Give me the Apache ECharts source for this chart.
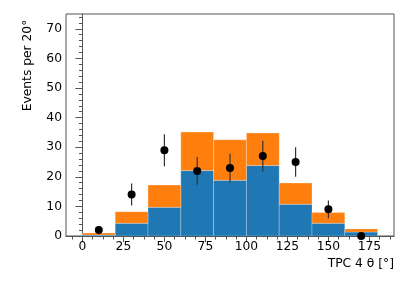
<!DOCTYPE html>
<html><head><meta charset="utf-8">
<script src="https://cdn.jsdelivr.net/npm/echarts@6/dist/echarts.min.js"></script>
<style>html,body{margin:0;padding:0;background:#fff}#c{width:415px;height:281px}</style>
</head><body><div id="c"></div>
<script>
const binEdges = [0, 20, 40, 60, 80, 100, 120, 140, 160, 180];
const blueCounts = [0.3, 4.3, 9.7, 22.1, 18.8, 23.8, 10.7, 4.3, 1.35];
const orangeCounts = [0.7, 3.9, 7.5, 13.0, 13.7, 11.0, 7.2, 3.6, 1.05];
const dataX = [10, 30, 50, 70, 90, 110, 130, 150, 170];
const dataY = [2, 14, 29, 22, 23, 27, 25, 9, 0];
const dataErr = [1.4, 3.7, 5.4, 4.7, 4.8, 5.2, 5.0, 3.0, 0];
const xTicks = [0, 25, 50, 75, 100, 125, 150, 175];
const xMinorTicks = [-6.25, 6.25, 12.5, 18.75, 31.25, 37.5, 43.75, 56.25, 62.5, 68.75, 81.25, 87.5, 93.75, 106.25, 112.5, 118.75, 131.25, 137.5, 143.75, 156.25, 162.5, 168.75, 181.25, 187.5];
const yTicks = [0, 10, 20, 30, 40, 50, 60, 70];
const yMinorTicks = [2,4,6,8,12,14,16,18,22,24,26,28,32,34,36,38,42,44,46,48,52,54,56,58,62,64,66,68,72,74];

const FONT = 'DejaVu Sans';
const FS = 12.3;
const AX = '#555';

const blueData = [], orangeData = [];
for (let i = 0; i < blueCounts.length; i++) {
  blueData.push([binEdges[i], binEdges[i+1], 0, blueCounts[i]]);
  orangeData.push([binEdges[i], binEdges[i+1], blueCounts[i], blueCounts[i] + orangeCounts[i]]);
}
const errData = dataX.map((x, i) => [x, dataY[i] - dataErr[i], dataY[i] + dataErr[i]]);

function rectRender(color) {
  return function (params, api) {
    const p0 = api.coord([api.value(0), api.value(3)]);
    const p1 = api.coord([api.value(1), api.value(2)]);
    return {
      type: 'rect',
      shape: { x: p0[0], y: p0[1], width: p1[0] - p0[0], height: p1[1] - p0[1] },
      style: { fill: color, stroke: 'rgba(255,255,255,0.25)', lineWidth: 1 }
    };
  };
}

const chart = echarts.init(document.getElementById('c'), null, { renderer: 'canvas' });
chart.setOption({
  animation: false,
  grid: { left: 66, right: 21, top: 14, bottom: 45, containLabel: false, outerBoundsMode: 'none', show: true, borderColor: AX, borderWidth: 1, backgroundColor: 'transparent' },
  xAxis: [{
    type: 'value', min: -10, max: 190,
    axisLine: { show: true, onZero: false, lineStyle: { color: AX, width: 1 } },
    axisTick: { show: true, customValues: xTicks, length: 6, lineStyle: { color: AX } },
    axisLabel: { customValues: xTicks, color: '#000', fontFamily: FONT, fontSize: FS, margin: 5 },
    splitLine: { show: false },
    name: 'TPC 4 θ [°]', nameLocation: 'end', nameGap: 0,
    nameTextStyle: { fontFamily: FONT, fontSize: FS, color: '#000', align: 'right', verticalAlign: 'top', padding: [22, 0, 0, 0] }
  }, {
    type: 'value', min: -10, max: 190, position: 'bottom',
    axisLine: { show: false },
    axisTick: { show: true, customValues: xMinorTicks, length: 3.5, lineStyle: { color: AX } },
    axisLabel: { show: false },
    splitLine: { show: false }
  }],
  yAxis: [{
    type: 'value', min: 0, max: 75,
    axisLine: { show: true, lineStyle: { color: AX, width: 1 } },
    axisTick: { show: true, customValues: yTicks, length: 7, lineStyle: { color: AX } },
    axisLabel: { customValues: yTicks, color: '#000', fontFamily: FONT, fontSize: FS, margin: 4 },
    splitLine: { show: false },
    name: 'Events per 20°', nameLocation: 'middle', nameGap: 32,
    nameTextStyle: { fontFamily: FONT, fontSize: FS, color: '#000', padding: [0, 0, 0, 119] }
  }, {
    type: 'value', min: 0, max: 75, position: 'left',
    axisLine: { show: false },
    axisTick: { show: true, customValues: yMinorTicks, length: 3.5, lineStyle: { color: AX } },
    axisLabel: { show: false },
    splitLine: { show: false }
  }],
  series: [
    { type: 'custom', renderItem: rectRender('#1f77b4'), data: blueData, encode: { x: [0, 1], y: [2, 3] }, clip: true, z: 2 },
    { type: 'custom', renderItem: rectRender('#ff7f0e'), data: orangeData, encode: { x: [0, 1], y: [2, 3] }, clip: true, z: 2 },
    {
      type: 'custom', z: 4, clip: true, data: errData, encode: { x: 0, y: [1, 2] },
      renderItem: function (params, api) {
        const lo = api.coord([api.value(0), api.value(1)]);
        const hi = api.coord([api.value(0), api.value(2)]);
        return { type: 'line', shape: { x1: lo[0], y1: lo[1], x2: hi[0], y2: hi[1] }, style: { stroke: '#333', lineWidth: 1.2 } };
      }
    },
    {
      type: 'scatter', z: 5, clip: true, symbol: 'circle', symbolSize: 8,
      itemStyle: { color: '#000', opacity: 1 },
      data: dataX.map((x, i) => [x, dataY[i]])
    }
  ]
});
</script></body></html>
